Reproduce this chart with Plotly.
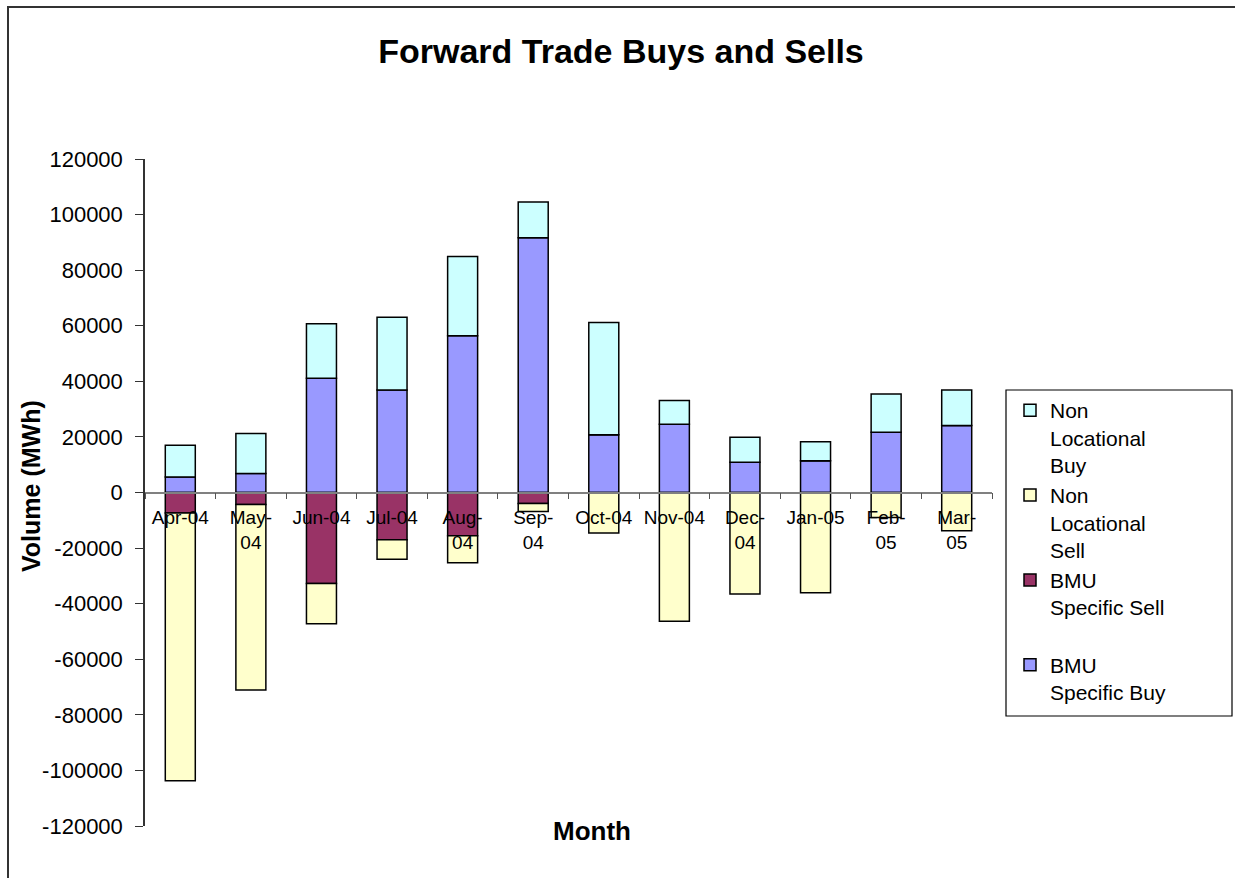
"""Forward trade buys and sells, stacked monthly volumes."""

import plotly.graph_objects as go

months = ["Apr-04", "May-04", "Jun-04", "Jul-04", "Aug-04", "Sep-04",
          "Oct-04", "Nov-04", "Dec-04", "Jan-05", "Feb-05", "Mar-05"]
tick_labels = ["Apr-04", "May-<br>04", "Jun-04", "Jul-04", "Aug-<br>04", "Sep-<br>04",
               "Oct-04", "Nov-04", "Dec-<br>04", "Jan-05", "Feb-<br>05", "Mar-<br>05"]
y_ticks = [120000, 100000, 80000, 60000, 40000, 20000, 0,
           -20000, -40000, -60000, -80000, -100000, -120000]

bmu_buy = [5600, 6800, 41100, 36900, 56400, 91700, 20800, 24600, 10900, 11400, 21700, 24100]
bmu_sell = [-7400, -4300, -32700, -17000, -15600, -4000, 0, 0, 0, 0, 0, 0]
nl_sell = [-96300, -66800, -14500, -7000, -9700, -2800,
           -14600, -46300, -36500, -36100, -9000, -13800]
nl_buy = [11400, 14400, 19600, 26200, 28500, 12800, 40400, 8500, 9000, 6900, 13700, 12800]

FONT = "Liberation Sans, Arial, sans-serif"

# plot area in pixels (from the reference): x 145..992, y 159..826
W, H = 1235, 878
L, R, T, B = 145, 992, 159, 826


def px_x(px):
    return (px - L) / (R - L)


def px_y(py):
    return (B - py) / (B - T)


series = [
    ("BMU<br>Specific Buy", bmu_buy, "#9999FF"),
    ("BMU<br>Specific Sell<br> ", bmu_sell, "#993366"),
    ("Non<br>Locational<br>Sell", nl_sell, "#FFFFCC"),
    ("Non<br>Locational<br>Buy", nl_buy, "#CCFFFF"),
]

fig = go.Figure()
for name, vals, color in series:
    fig.add_trace(go.Bar(
        x=months, y=vals, name=name,
        marker=dict(color=color, line=dict(color="#000000", width=1.5)),
    ))

fig.update_layout(
    width=W, height=H,
    barmode="relative", bargap=0.575,
    paper_bgcolor="white", plot_bgcolor="white",
    font=dict(family=FONT, color="#000000", size=20),
    margin=dict(l=L, r=W - R, t=T, b=H - B),
    title=dict(text="<b>Forward Trade Buys and Sells</b>", xref="container",
               x=621 / W, y=1 - 51 / H, xanchor="center", yanchor="middle",
               font=dict(size=34, family=FONT)),
    legend=dict(traceorder="reversed", x=px_x(1010), y=px_y(390),
                xanchor="left", yanchor="top", valign="top",
                font=dict(size=21, family=FONT), bgcolor="rgba(0,0,0,0)",
                tracegroupgap=0, itemwidth=30),
    showlegend=True,
)

fig.update_yaxes(range=[-120000, 120000], tickmode="array", tickvals=y_ticks,
                 ticktext=[str(v) for v in y_ticks],
                 showgrid=False, zeroline=False,
                 showline=True, linecolor="#333333", linewidth=1.5,
                 ticks="outside", ticklen=8, tickcolor="#333333", ticklabelstandoff=8,
                 tickfont=dict(size=22, family=FONT))
fig.update_xaxes(type="category", anchor="free", position=0.5,
                 tickmode="array", tickvals=months, ticktext=tick_labels, tickangle=0,
                 tickson="boundaries", ticks="outside", ticklen=6, tickcolor="#555555",
                 ticklabelstandoff=8,
                 showline=True, linecolor="#808080", linewidth=1.5, showgrid=False,
                 tickfont=dict(size=19, family=FONT))

# axis titles
fig.add_annotation(text="<b>Volume (MWh)</b>", textangle=-90, xref="paper", yref="paper",
                   x=px_x(31), y=px_y(486), xanchor="center", yanchor="middle",
                   showarrow=False, font=dict(size=25, family=FONT))
fig.add_annotation(text="<b>Month</b>", xref="paper", yref="paper",
                   x=px_x(592), y=px_y(831), xanchor="center", yanchor="middle",
                   showarrow=False, font=dict(size=26, family=FONT))

# legend frame and chart border
fig.add_shape(type="rect", xref="paper", yref="paper",
              x0=px_x(1006), x1=px_x(1232), y0=px_y(716), y1=px_y(390),
              line=dict(color="#000000", width=1.2), fillcolor="rgba(0,0,0,0)")
fig.add_shape(type="rect", xref="paper", yref="paper",
              x0=px_x(8), x1=px_x(1300), y0=px_y(900), y1=px_y(7),
              line=dict(color="#333333", width=2), fillcolor="rgba(0,0,0,0)")

fig.write_html("out.html", config={"displayModeBar": False},
               post_script="document.body.style.margin='0';")
